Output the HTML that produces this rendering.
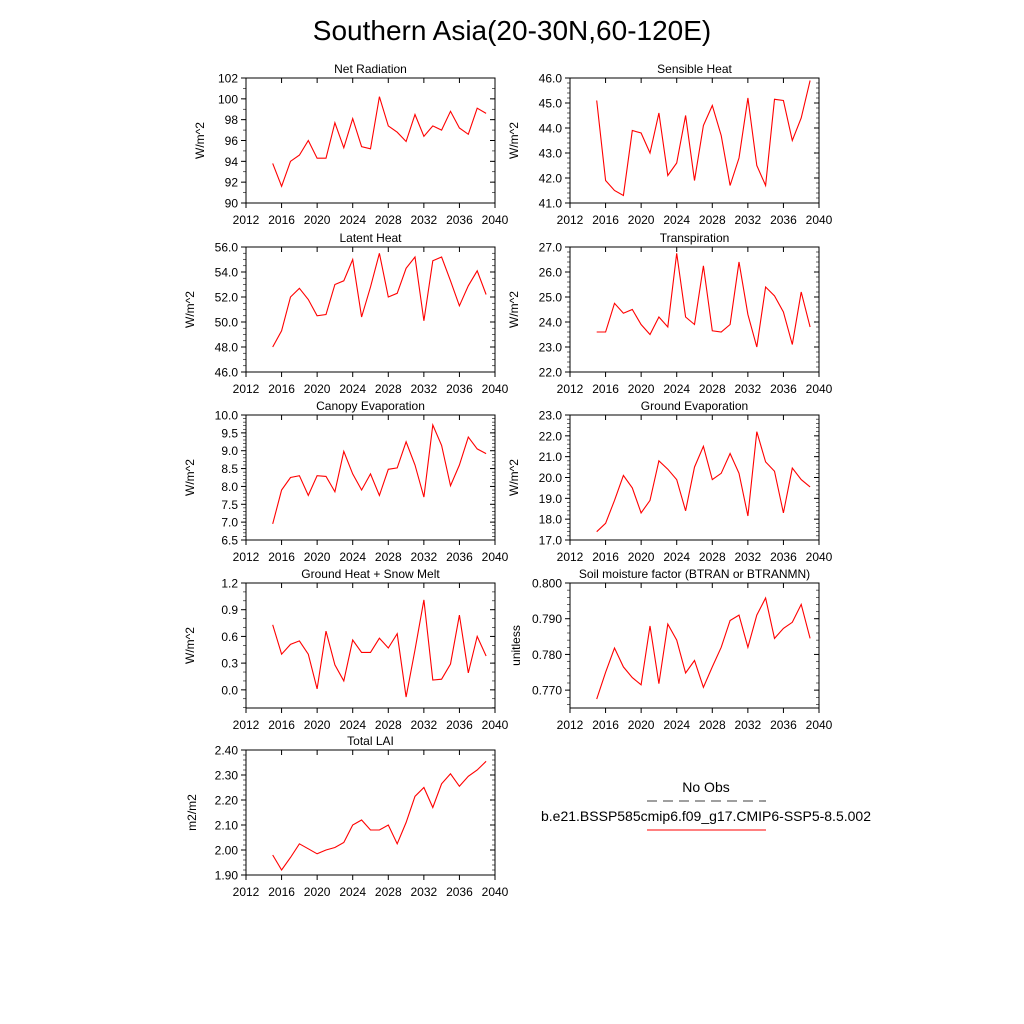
<!DOCTYPE html>
<html><head><meta charset="utf-8"><style>
body{margin:0;background:#fff;}
svg{display:block;font-family:"Liberation Sans",sans-serif;}
</style></head><body>
<svg id="c" width="1024" height="1024">
<text x="512" y="40" font-size="28" text-anchor="middle">Southern Asia(20-30N,60-120E)</text>
<g>
<text x="706" y="792" font-size="14" text-anchor="middle">No Obs</text>
<line x1="647" y1="801" x2="766" y2="801" stroke="#000" stroke-width="0.8" stroke-dasharray="10,6"/>
<text x="706" y="821" font-size="14" text-anchor="middle">b.e21.BSSP585cmip6.f09_g17.CMIP6-SSP5-8.5.002</text>
<line x1="647" y1="830" x2="766" y2="830" stroke="#f00" stroke-width="1"/>
</g>
</svg>
<script>
const years=[2015,2016,2017,2018,2019,2020,2021,2022,2023,2024,2025,2026,2027,2028,2029,2030,2031,2032,2033,2034,2035,2036,2037,2038,2039];
const xTicks=[2012,2016,2020,2024,2028,2032,2036,2040];
const netRad=[93.8,91.6,94.0,94.6,96.0,94.3,94.3,97.7,95.3,98.1,95.4,95.2,100.2,97.4,96.8,95.9,98.5,96.4,97.4,97.0,98.8,97.2,96.6,99.1,98.6];
const sensible=[45.1,41.9,41.5,41.3,43.9,43.8,43.0,44.6,42.1,42.6,44.5,41.9,44.1,44.9,43.7,41.7,42.8,45.2,42.5,41.7,45.15,45.1,43.5,44.4,45.9];
const latent=[48.0,49.3,52.0,52.7,51.8,50.5,50.6,53.0,53.3,55.0,50.4,52.8,55.5,52.0,52.3,54.3,55.2,50.1,54.9,55.2,53.3,51.3,52.9,54.1,52.2];
const transp=[23.6,23.6,24.75,24.35,24.5,23.9,23.5,24.2,23.8,26.75,24.2,23.9,26.25,23.65,23.6,23.9,26.4,24.3,23.0,25.4,25.05,24.4,23.1,25.2,23.8];
const canopy=[6.95,7.9,8.25,8.3,7.75,8.3,8.28,7.85,8.98,8.35,7.9,8.35,7.75,8.48,8.52,9.25,8.6,7.7,9.72,9.15,8.02,8.6,9.38,9.05,8.92];
const groundEvap=[17.4,17.8,18.9,20.1,19.5,18.3,18.9,20.8,20.4,19.9,18.4,20.5,21.5,19.9,20.2,21.15,20.2,18.15,22.2,20.75,20.3,18.3,20.45,19.9,19.55];
const groundHeat=[0.73,0.40,0.51,0.55,0.40,0.01,0.66,0.28,0.10,0.56,0.42,0.42,0.58,0.47,0.63,-0.08,0.45,1.01,0.11,0.12,0.29,0.84,0.19,0.60,0.38];
const soil=[0.7675,0.775,0.7818,0.7765,0.7735,0.7715,0.788,0.7718,0.7885,0.784,0.7748,0.7783,0.7708,0.7765,0.782,0.7895,0.791,0.782,0.791,0.7958,0.7845,0.7873,0.789,0.794,0.7845];
const lai=[1.98,1.92,1.97,2.025,2.005,1.985,2.0,2.01,2.03,2.1,2.12,2.08,2.08,2.1,2.025,2.11,2.215,2.25,2.17,2.265,2.305,2.255,2.295,2.32,2.355];
const netRadTicks=[90,92,94,96,98,100,102];
const sensTicks=[41,42,43,44,45,46];
const latTicks=[46,48,50,52,54,56];
const trTicks=[22,23,24,25,26,27];
const canTicks=[6.5,7,7.5,8,8.5,9,9.5,10];
const geTicks=[17,18,19,20,21,22,23];
const ghTicks=[0,0.3,0.6,0.9,1.2];
const smTicks=[0.77,0.78,0.79,0.8];
const laiTicks=[1.9,2.0,2.1,2.2,2.3,2.4];
const panels=[
 {n:'net-radiation',t:'Net Radiation',x:246,y:78,d:netRad,lo:90,hi:102,tk:netRadTicks,dec:0,minor:1,u:'W/m^2'},
 {n:'sensible-heat',t:'Sensible Heat',x:570,y:78,d:sensible,lo:41,hi:46,tk:sensTicks,dec:1,minor:0.2,u:'W/m^2'},
 {n:'latent-heat',t:'Latent Heat',x:246,y:247,d:latent,lo:46,hi:56,tk:latTicks,dec:1,minor:0.5,u:'W/m^2'},
 {n:'transpiration',t:'Transpiration',x:570,y:247,d:transp,lo:22,hi:27,tk:trTicks,dec:1,minor:0.2,u:'W/m^2'},
 {n:'canopy-evaporation',t:'Canopy Evaporation',x:246,y:415,d:canopy,lo:6.5,hi:10,tk:canTicks,dec:1,minor:0.1,u:'W/m^2'},
 {n:'ground-evaporation',t:'Ground Evaporation',x:570,y:415,d:groundEvap,lo:17,hi:23,tk:geTicks,dec:1,minor:0.2,u:'W/m^2'},
 {n:'ground-heat',t:'Ground Heat + Snow Melt',x:246,y:583,d:groundHeat,lo:-0.204,hi:1.2,tk:ghTicks,dec:1,minor:0.1,u:'W/m^2'},
 {n:'soil-moisture',t:'Soil moisture factor (BTRAN or BTRANMN)',x:570,y:583,d:soil,lo:0.765,hi:0.8,tk:smTicks,dec:3,minor:0.002,u:'unitless'},
 {n:'total-lai',t:'Total LAI',x:246,y:750,d:lai,lo:1.9,hi:2.4,tk:laiTicks,dec:2,minor:0.02,u:'m2/m2'}
];
const W=249,H=125,NS='http://www.w3.org/2000/svg';
const svg=document.getElementById('c');
function mk(tag,at,parent){const e=document.createElementNS(NS,tag);for(const k in at)e.setAttribute(k,at[k]);parent.appendChild(e);return e;}
panels.forEach(p=>{
 const g=mk('g',{},svg);
 
 
 const xs=v=>p.x+(v-2012)/(2040-2012)*W;
 const ys=v=>p.y+H-(v-p.lo)/(p.hi-p.lo)*H;
 const tt=mk('text',{x:p.x+W/2,y:p.y-5,'font-size':12,'text-anchor':'middle'},g);tt.textContent=p.t;
 
 
 const box=mk('rect',{x:p.x,y:p.y,width:W,height:H,fill:'none',stroke:'#000','stroke-width':1},g);
 
 
 xTicks.forEach(v=>{const X=xs(v);
  mk('line',{x1:X,y1:p.y+H,x2:X,y2:p.y+H+5,stroke:'#000'},g);
  mk('line',{x1:X,y1:p.y,x2:X,y2:p.y+5,stroke:'#000'},g);
  const l=mk('text',{x:X,y:p.y+H+21,'font-size':12,'text-anchor':'middle'},g);l.textContent=v;
  
  
 });
 for(let v=Math.ceil(p.lo/p.minor-1e-6)*p.minor;v<=p.hi+1e-9;v+=p.minor){const Y=ys(v);
  mk('line',{x1:p.x-3,y1:Y,x2:p.x,y2:Y,stroke:'#000','stroke-width':0.6},g);
  mk('line',{x1:p.x+W,y1:Y,x2:p.x+W-3,y2:Y,stroke:'#000','stroke-width':0.6},g);}
 p.tk.forEach(v=>{const Y=ys(v);
  mk('line',{x1:p.x-5,y1:Y,x2:p.x,y2:Y,stroke:'#000'},g);
  mk('line',{x1:p.x+W,y1:Y,x2:p.x+W-5,y2:Y,stroke:'#000'},g);
  const l=mk('text',{x:p.x-8,y:Y+4.5,'font-size':12,'text-anchor':'end'},g);l.textContent=v.toFixed(p.dec);
  
  
 });
 const yl=mk('text',{x:0,y:0,'font-size':12,'text-anchor':'middle',transform:`translate(${p.x-(p.dec>=2?50:(p.dec==1?52:42))},${p.y+H/2}) rotate(-90)`},g);yl.textContent=p.u;
 
 
 const pts=p.d.map((v,i)=>xs(years[i]).toFixed(1)+','+ys(v).toFixed(1)).join(' ');
 const pl=mk('polyline',{points:pts,fill:'none',stroke:'#f00','stroke-width':1.1},g);
 
 
});
</script>
</body></html>
